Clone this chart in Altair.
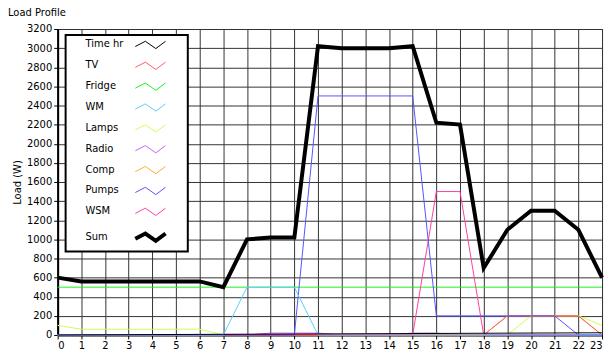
import altair as alt
import pandas as pd

hours = list(range(24))
names = ["Time hr", "TV", "Fridge", "WM", "Lamps", "Radio", "Comp", "Pumps", "WSM", "Sum"]
colors = ["#000000", "#ff5c5c", "#22ee22", "#5ccfff", "#ccff55", "#d05cff",
          "#ffaa33", "#5555ff", "#ff3fa0", "#000000"]
widths = [1, 1, 1, 1, 1, 1, 1, 1, 1, 4]

time_hr = [0, 1, 2, 3, 4, 5, 6, 7, 8, 9, 10, 11, 12, 13, 14, 15, 16, 17, 18, 19, 20, 21, 22, 23]
tv      = [0, 0, 0, 0, 0, 0, 0, 0, 0, 0, 0, 0, 0, 0, 0, 0, 0, 0, 0, 200, 200, 200, 200, 0]
fridge  = [500] * 24
wm      = [0, 0, 0, 0, 0, 0, 0, 0, 500, 500, 500, 0, 0, 0, 0, 0, 0, 0, 0, 0, 0, 0, 0, 0]
lamps   = [100, 60, 60, 60, 60, 60, 60, 0, 0, 0, 0, 0, 0, 0, 0, 0, 0, 0, 0, 0, 200, 200, 200, 100]
radio   = [0, 0, 0, 0, 0, 0, 0, 0, 0, 20, 20, 20, 0, 0, 0, 20, 20, 0, 0, 0, 0, 0, 0, 0]
comp    = [0, 0, 0, 0, 0, 0, 0, 0, 0, 0, 0, 0, 0, 0, 0, 0, 0, 0, 0, 200, 200, 200, 200, 0]
pumps   = [0, 0, 0, 0, 0, 0, 0, 0, 0, 0, 0, 2500, 2500, 2500, 2500, 2500, 200, 200, 200, 200, 200, 200, 0, 0]
wsm     = [0, 0, 0, 0, 0, 0, 0, 0, 0, 0, 0, 0, 0, 0, 0, 0, 1500, 1500, 0, 0, 0, 0, 0, 0]
total   = [600, 560, 560, 560, 560, 560, 560, 500, 1000, 1020, 1020, 3020, 3000, 3000, 3000, 3020,
           2220, 2200, 700, 1100, 1300, 1300, 1100, 600]

series_values = {"Time hr": time_hr, "TV": tv, "Fridge": fridge, "WM": wm, "Lamps": lamps,
                 "Radio": radio, "Comp": comp, "Pumps": pumps, "WSM": wsm, "Sum": total}

rows = []
for name in names:
    for h, v in zip(hours, series_values[name]):
        rows.append({"hour": h, "load": v, "series": name, "entry": name})
df = pd.DataFrame(rows)

draw_order = ["Fridge", "Lamps", "Radio", "Comp", "TV", "WSM", "Pumps", "WM", "Time hr", "Sum"]

FONT = "DejaVu Sans"
# legend glyphs drawn to the right of the label (units of 7 px), plus an invisible
# move-to that widens the legend box on the right
zig = "M8.45,0.3L9.9,-0.45L11.4,0.6L12.8,-0.45M14.55,0"
frame = "M8.25,-1.05H12.95V1.05H8.25ZM14.55,0"

legend = alt.Legend(
    title=None, orient="none", legendX=8, legendY=6, zindex=1,
    fillColor="white", strokeColor="black", padding=2,
    symbolType=zig, symbolSize=196, symbolFillColor="transparent",
    symbolOffset=0, labelOffset=0, rowPadding=7,
    labelFont=FONT, labelFontSize=10, labelColor="black",
)
frame_legend = alt.Legend(
    title=None, orient="none", legendX=8, legendY=6, zindex=2,
    fillColor="transparent", strokeColor="transparent", padding=2,
    symbolType=frame, symbolSize=196, symbolFillColor="transparent",
    symbolStrokeColor="#444444", symbolStrokeWidth=1, symbolOpacity=1,
    symbolOffset=0, labelOffset=0, rowPadding=7,
    labelFont=FONT, labelFontSize=10, labelColor="transparent",
)

color_scale = alt.Scale(domain=names, range=colors)
width_scale = alt.Scale(type="ordinal", domain=names, range=widths)
opacity_scale = alt.Scale(type="ordinal", domain=names, range=[1] * len(names))

x_enc = alt.X("hour:Q", scale=alt.Scale(domain=[0, 23], nice=False),
              axis=alt.Axis(values=hours, title=None, format="d"))
y_enc = alt.Y("load:Q", scale=alt.Scale(domain=[0, 3200], nice=False),
              axis=alt.Axis(values=list(range(0, 3201, 200)), title="Load (W)", format="d"))

base = alt.Chart(df)
layers = []
for name in draw_order:
    layers.append(
        base.transform_filter(alt.datum.series == name)
        .mark_line()
        .encode(x=x_enc, y=y_enc,
                color=alt.Color("series:N", scale=color_scale, legend=legend),
                strokeWidth=alt.StrokeWidth("series:N", scale=width_scale, legend=legend),
                opacity=alt.Opacity("entry:N", scale=opacity_scale, legend=frame_legend))
    )

chart = alt.layer(*layers).properties(
    width=548, height=308,
    autosize=alt.AutoSizeParams(type="none"),
    padding={"left": 50, "top": 20, "right": 4, "bottom": 18},
    title=alt.TitleParams("Load Profile", anchor="start", frame="group", dx=-50, offset=6,
                          fontSize=10, fontWeight="normal", font=FONT, color="black"),
).configure_axis(
    grid=True, gridColor="#333333", gridOpacity=1, gridWidth=1,
    domainColor="black", domainWidth=2, tickColor="black", tickSize=4,
    labelFont=FONT, labelFontSize=10, labelColor="black", labelPadding=2,
    titleFont=FONT, titleFontSize=10, titleFontWeight="normal", titleColor="black", titlePadding=4,
).configure_legend(strokeWidth=2).configure_view(stroke="#333333", strokeWidth=1)

chart.save("out.html", embed_options={"renderer": "svg", "actions": False})
